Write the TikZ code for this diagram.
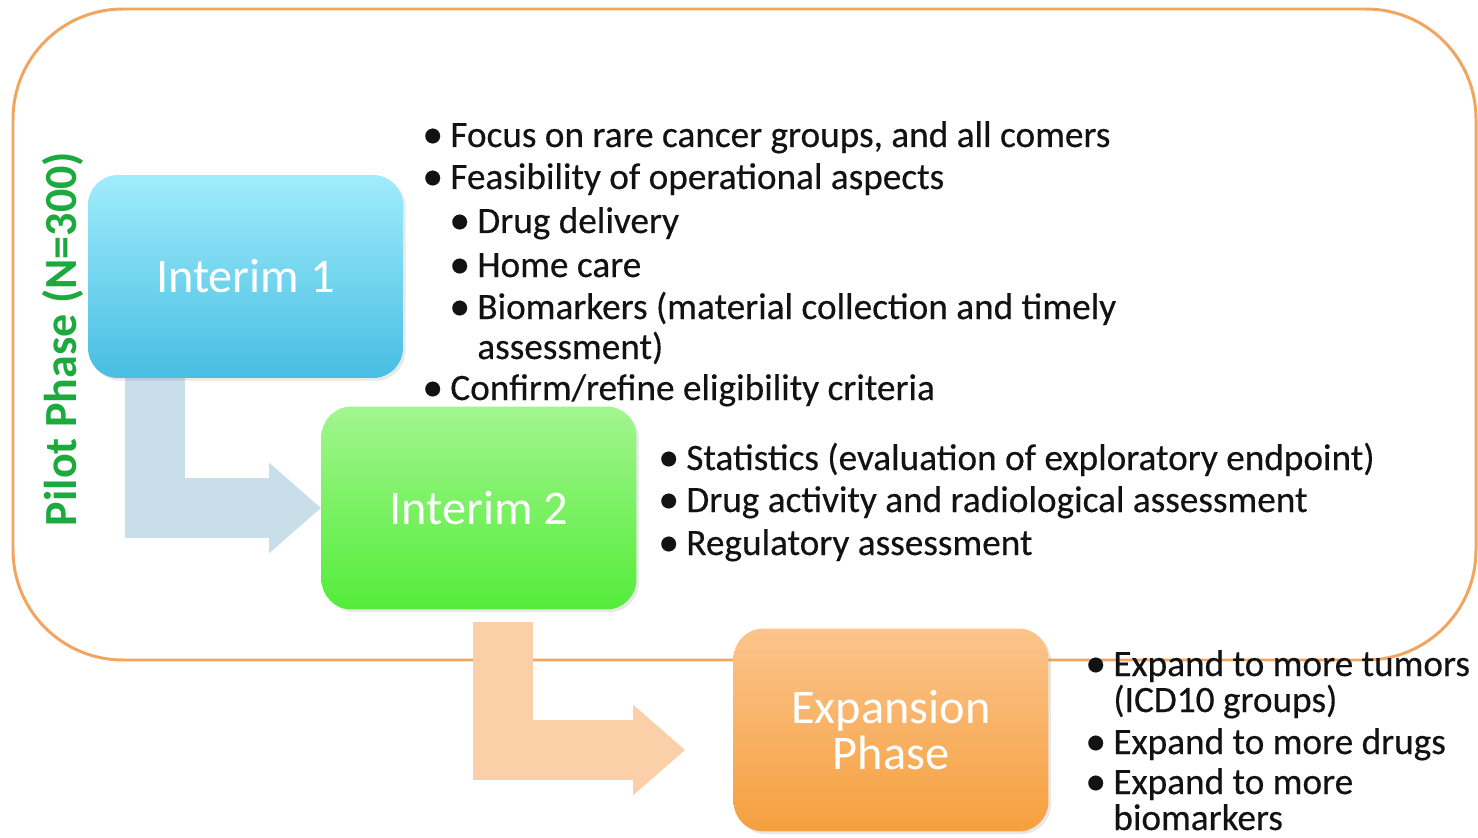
\documentclass[tikz,border=0pt]{standalone}
\usepackage{fontspec}
\setmainfont{Carlito}
\usetikzlibrary{arrows.meta,shadows,backgrounds}

\definecolor{frameorange}{RGB}{242,165,95}
\definecolor{pilotgreen}{RGB}{28,170,62}
\definecolor{arrowblue}{RGB}{200,222,232}
\definecolor{arrowpeach}{RGB}{251,207,168}
\definecolor{cyantop}{RGB}{160,236,252}
\definecolor{cyanbot}{RGB}{72,190,226}
\definecolor{greentop}{RGB}{162,246,142}
\definecolor{greenbot}{RGB}{84,236,58}
\definecolor{orangetop}{RGB}{251,196,140}
\definecolor{orangebot}{RGB}{246,160,62}
\definecolor{textgray}{RGB}{18,18,18}

\newcommand{\itm}[1]{\makebox[0.5cm][l]{\hspace{-0.06cm}\raisebox{-0.02em}{\scalebox{1.12}{•}}}#1}

\tikzset{
  phasebox/.style={rounded corners=0.6cm, minimum width=6.3cm, minimum height=4.06cm,
    inner sep=0pt, text=white, align=center, font=\fontsize{27.5}{26.6}\selectfont,
    drop shadow={opacity=0.18, shadow xshift=1.5pt, shadow yshift=-1.5pt}},
  bendarrow/.style={line width=1.2cm, line join=miter, -{Triangle[length=1.04cm,width=1.74cm]}},
  item/.style={anchor=base west, inner sep=0pt, text=textgray,
    font=\addfontfeatures{FakeBold=0.4}\fontsize{21.2}{25}\selectfont}
}

\begin{document}
\begin{tikzpicture}[x=0.02cm, y=-0.02cm]
\useasboundingbox (0,0) rectangle (1478,838);

% phases
\node[phasebox, top color=cyantop, bottom color=cyanbot] (int1) at (245.5,276.5) {Interim 1};
\node[phasebox, top color=greentop, bottom color=greenbot] (int2) at (479,508) {Interim 2};
\node[phasebox, top color=orangetop, bottom color=orangebot] (exp) at (891,730) {Expansion\\Phase};

\node[rotate=90, text=pilotgreen, font=\bfseries\fontsize{26.2}{30}\selectfont] (pilot) at (63,339) {Pilot Phase (N=300)};

\coordinate (a2s) at ([xshift=3.64cm,yshift=-0.24cm]int2.south west);
\coordinate (a2e) at ([xshift=-0.96cm,yshift=-0.4cm]exp.west);

\begin{scope}[on background layer]
\draw[frameorange, line width=1.7pt, rounded corners=2.2cm] (13,9) rectangle (1476,660);
\draw[bendarrow, draw=arrowblue] ([xshift=1.35cm]int1.south west) |- (int2.west);
\draw[bendarrow, draw=arrowpeach] (a2s) |- (a2e);
\end{scope}

% interim 1 notes
\node[item] (f1) at (425,147) {\itm{Focus on rare cancer groups, and all comers}};
\node[item] (f2) at (425,189) {\itm{Feasibility of operational aspects}};
\node[item] (f3) at (452,233) {\itm{Drug delivery}};
\node[item] (f4) at (452,277) {\itm{Home care}};
\node[item] (f5) at (452,319) {\itm{Biomarkers (material collection and timely}};
\node[item] (f6) at (477,359) {assessment)};
\node[item] (f7) at (425,400) {\itm{Confirm/refine eligibility criteria}};

% interim 2 notes
\node[item] (s1) at (661,470) {\itm{Statistics (evaluation of exploratory endpoint)}};
\node[item] (s2) at (661,512) {\itm{Drug activity and radiological assessment}};
\node[item] (s3) at (661,555) {\itm{Regulatory assessment}};

% expansion notes
\node[item] (e1) at (1088,676) {\itm{Expand to more tumors}};
\node[item] (e2) at (1113,712) {(ICD10 groups)};
\node[item] (e3) at (1088,754) {\itm{Expand to more drugs}};
\node[item] (e4) at (1088,794) {\itm{Expand to more}};
\node[item] (e5) at (1113,830) {biomarkers};

\end{tikzpicture}
\end{document}
